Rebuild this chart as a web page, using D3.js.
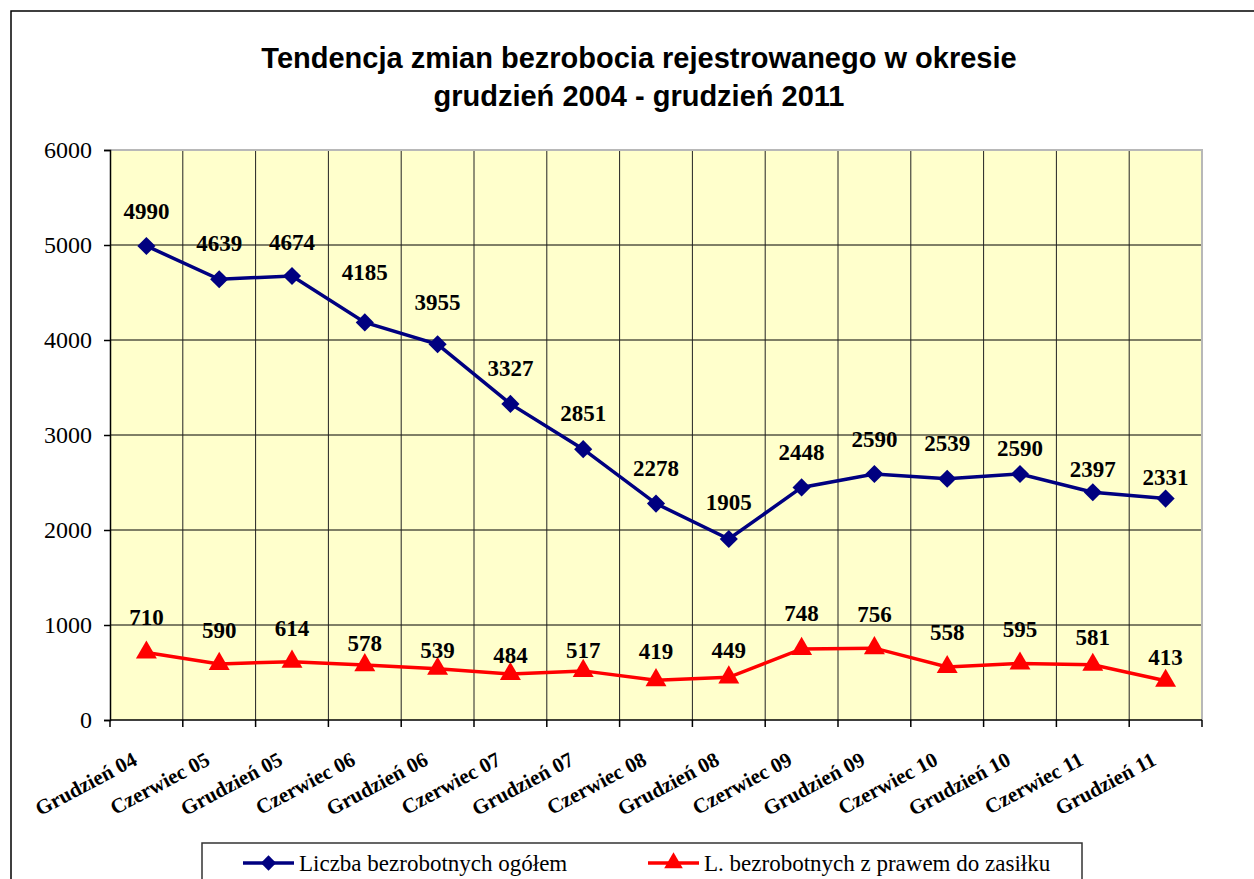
<!DOCTYPE html>
<html>
<head>
<meta charset="utf-8">
<script src="https://cdn.jsdelivr.net/npm/d3@7"></script>
<style>
  body { margin: 0; background: #fff; }
  svg { display: block; }
</style>
</head>
<body>
<div id="chart"></div>
<script>
(function (d3) {
    "use strict";

    /***** Dane *****/
    const categories = ["Grudzień 04", "Czerwiec 05", "Grudzień 05", "Czerwiec 06", "Grudzień 06",
        "Czerwiec 07", "Grudzień 07", "Czerwiec 08", "Grudzień 08", "Czerwiec 09", "Grudzień 09",
        "Czerwiec 10", "Grudzień 10", "Czerwiec 11", "Grudzień 11"];
    const ogolem = [4990, 4639, 4674, 4185, 3955, 3327, 2851, 2278, 1905, 2448, 2590, 2539, 2590, 2397, 2331];
    const zasilek = [710, 590, 614, 578, 539, 484, 517, 419, 449, 748, 756, 558, 595, 581, 413];
    const yTicks = [0, 1000, 2000, 3000, 4000, 5000, 6000];
    const seriesNames = ["Liczba bezrobotnych ogółem", "L. bezrobotnych z prawem do zasiłku"];

    // przesunięcie etykiet nad punktem (jak w oryginale, ręcznie poprawione)
    const liftOgolem = [35, 36, 34, 50, 42, 36, 36, 36, 37, 35, 35, 36, 26, 23, 22];
    const liftZasilek = [36, 34, 34, 22, 19, 19, 21, 29, 27, 36, 34, 35, 35, 28, 24];

    /***** Konfiguracja *****/
    const width = 1254, height = 879;
    const plot = { left: 110, right: 1202, top: 150, bottom: 720 };
    const serif = "'Liberation Serif', 'Times New Roman', serif";

    const svg = d3.select("#chart").append("svg")
        .attr("width", width)
        .attr("height", height);

    // ramka wykresu
    svg.append("rect")
        .attr("x", 11).attr("y", 11)
        .attr("width", width + 20).attr("height", height + 20)
        .attr("fill", "#fff")
        .attr("stroke", "#000")
        .attr("stroke-width", 1.5);

    // tytuł
    const title = svg.append("text")
        .attr("text-anchor", "middle")
        .attr("font-family", "'Liberation Sans', Arial, sans-serif")
        .attr("font-weight", "bold")
        .attr("font-size", 29)
        .attr("fill", "#000");
    title.append("tspan").attr("x", 639).attr("y", 68).text("Tendencja zmian bezrobocia rejestrowanego w okresie");
    title.append("tspan").attr("x", 639).attr("y", 106).text("grudzień 2004 - grudzień 2011");

    /***** Skale *****/
    const x = d3.scaleBand().domain(categories).range([plot.left, plot.right]).padding(0);
    const y = d3.scaleLinear().domain([0, 6000]).range([plot.bottom, plot.top]);
    const cx = c => x(c) + x.bandwidth() / 2;

    // tło obszaru kreślenia
    svg.append("rect")
        .attr("x", plot.left).attr("y", plot.top)
        .attr("width", plot.right - plot.left).attr("height", plot.bottom - plot.top)
        .attr("fill", "#FFFFCC");

    // linie siatki
    svg.append("g").selectAll("line").data(yTicks.slice(1, -1)).join("line")
        .attr("x1", plot.left).attr("x2", plot.right)
        .attr("y1", d => y(d)).attr("y2", d => y(d))
        .attr("stroke", "#000").attr("stroke-width", 1);
    svg.append("g").selectAll("line").data(categories.slice(1)).join("line")
        .attr("x1", d => x(d)).attr("x2", d => x(d))
        .attr("y1", plot.top).attr("y2", plot.bottom)
        .attr("stroke", "#222").attr("stroke-width", 1);

    // obramowanie (górne i prawe szare)
    svg.append("path")
        .attr("d", `M${plot.left},${plot.top}H${plot.right}V${plot.bottom}`)
        .attr("fill", "none")
        .attr("stroke", "#b8b8b8")
        .attr("stroke-width", 2);

    /***** Osie *****/
    const yAxis = d3.axisLeft(y).tickValues(yTicks).tickSize(6).tickPadding(12).tickFormat(d3.format("d"));
    const gy = svg.append("g")
        .attr("transform", `translate(${plot.left},0)`)
        .call(yAxis);
    gy.select(".domain").attr("stroke", "#000").attr("stroke-width", 1.5);
    gy.selectAll(".tick line").attr("stroke", "#000").attr("stroke-width", 1.5);
    gy.selectAll(".tick text")
        .attr("font-family", serif)
        .attr("font-size", 24)
        .attr("fill", "#000");

    const gx = svg.append("g")
        .attr("transform", `translate(0,${plot.bottom})`);
    gx.append("line")
        .attr("x1", plot.left).attr("x2", plot.right)
        .attr("stroke", "#000").attr("stroke-width", 1.5);
    gx.selectAll(".tk").data(categories.concat(["__end"])).join("line")
        .attr("class", "tk")
        .attr("x1", d => d === "__end" ? plot.right : x(d))
        .attr("x2", d => d === "__end" ? plot.right : x(d))
        .attr("y1", 0).attr("y2", 7)
        .attr("stroke", "#000").attr("stroke-width", 1.5);
    gx.selectAll(".lbl").data(categories).join("text")
        .attr("class", "lbl")
        .attr("text-anchor", "end")
        .attr("transform", d => `translate(${cx(d) - 8},${44}) rotate(-28)`)
        .attr("font-family", serif)
        .attr("font-weight", "bold")
        .attr("font-size", 21)
        .attr("fill", "#000")
        .text(d => d);

    /***** Serie *****/
    const line = d3.line().x(d => cx(d.c)).y(d => y(d.v));
    const dataOgolem = categories.map((c, i) => ({ c: c, v: ogolem[i], lift: liftOgolem[i] }));
    const dataZasilek = categories.map((c, i) => ({ c: c, v: zasilek[i], lift: liftZasilek[i] }));

    const diamond = d3.symbol().type(d3.symbolDiamond2).size(210);
    const triangle = d3.symbol().type(d3.symbolTriangle).size(190);

    function drawSeries(data, color, sym) {
        const g = svg.append("g");
        g.append("path")
            .datum(data)
            .attr("d", line)
            .attr("fill", "none")
            .attr("stroke", color)
            .attr("stroke-width", 3.5);
        g.selectAll(".m").data(data).join("path")
            .attr("class", "m")
            .attr("transform", d => `translate(${cx(d.c)},${y(d.v)})`)
            .attr("d", sym)
            .attr("fill", color);
        g.selectAll(".v").data(data).join("text")
            .attr("class", "v")
            .attr("x", d => cx(d.c))
            .attr("y", d => y(d.v) - d.lift)
            .attr("dy", "0.35em")
            .attr("text-anchor", "middle")
            .attr("font-family", serif)
            .attr("font-weight", "bold")
            .attr("font-size", 23)
            .attr("fill", "#000")
            .text(d => d.v);
    }
    drawSeries(dataOgolem, "#000080", diamond);
    drawSeries(dataZasilek, "#FF0000", triangle);

    /***** Legenda *****/
    const legend = svg.append("g");
    legend.append("rect")
        .attr("x", 202).attr("y", 843)
        .attr("width", 880).attr("height", 60)
        .attr("fill", "#fff")
        .attr("stroke", "#333")
        .attr("stroke-width", 1.5);
    const items = [
        { name: seriesNames[0], color: "#000080", sym: diamond, x0: 243 },
        { name: seriesNames[1], color: "#FF0000", sym: triangle, x0: 648 }
    ];
    const li = legend.selectAll(".li").data(items).join("g")
        .attr("class", "li")
        .attr("transform", d => `translate(${d.x0},863)`);
    li.append("line")
        .attr("x1", 0).attr("x2", 51)
        .attr("stroke", d => d.color).attr("stroke-width", 3.5);
    li.append("path")
        .attr("transform", "translate(25.5,0)")
        .attr("d", d => d.sym.size(150)())
        .attr("fill", d => d.color);
    li.append("text")
        .attr("x", 56).attr("y", 0).attr("dy", "0.35em")
        .attr("font-family", serif)
        .attr("font-size", 23)
        .attr("fill", "#000")
        .text(d => d.name);

})(d3);
</script>
</body>
</html>
